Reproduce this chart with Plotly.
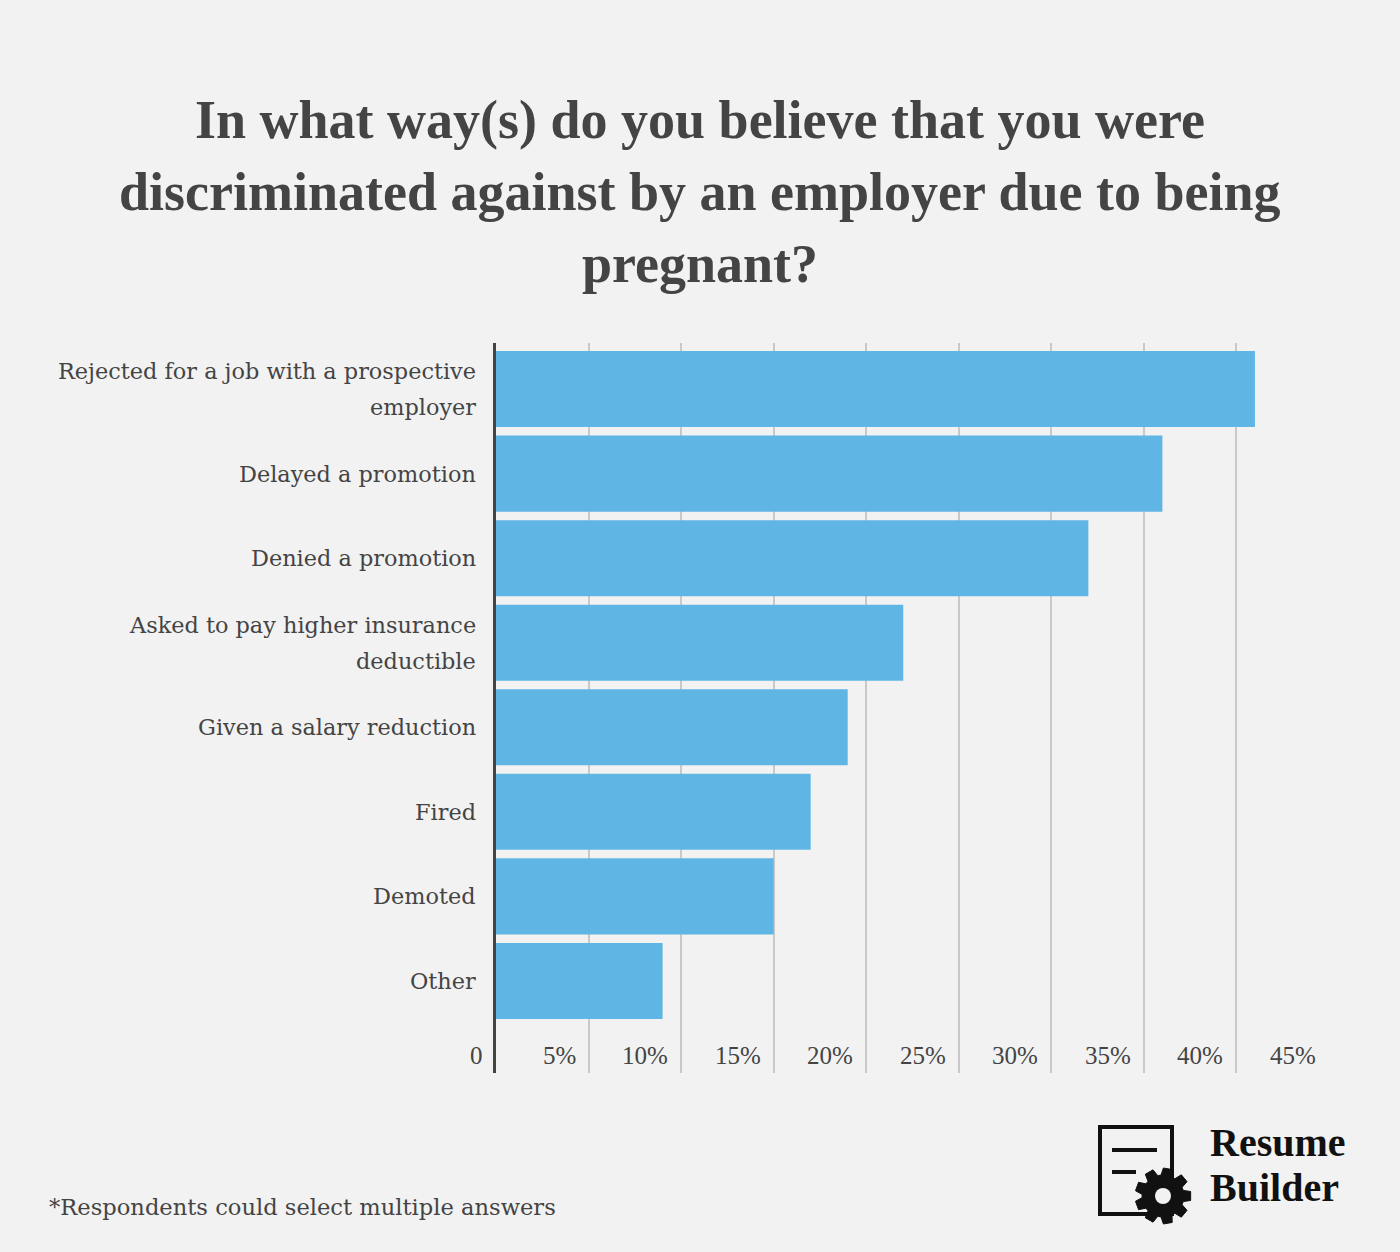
import numpy as np
import plotly.graph_objects as go

categories = [
    "Rejected for a job with a prospective<br>employer",
    "Delayed a promotion",
    "Denied a promotion",
    "Asked to pay higher insurance<br>deductible",
    "Given a salary reduction",
    "Fired",
    "Demoted",
    "Other",
]
values = [41, 36, 32, 22, 19, 17, 15, 9]
tick_vals = [0, 5, 10, 15, 20, 25, 30, 35, 40, 45]
tick_text = ["0", "5%", "10%", "15%", "20%", "25%", "30%", "35%", "40%", "45%"]
title_lines = [
    "In what way(s) do you believe that you were",
    "discriminated against by an employer due to being",
    "pregnant?",
]

BG = "#f2f2f2"
TXT = "#444444"
SERIF = "Liberation Serif"
SERIF2 = "DejaVu Serif"

fig = go.Figure()
fig.add_trace(go.Bar(
    x=values, y=categories, orientation="h",
    marker=dict(color="#5fb6e4", line=dict(width=0)),
    hoverinfo="skip",
))

fig.update_layout(
    width=1400, height=1252,
    paper_bgcolor=BG, plot_bgcolor=BG,
    margin=dict(l=496, r=71, t=343, b=179),
    showlegend=False, bargap=0.1,
    font=dict(family=SERIF, color=TXT),
)
fig.update_xaxes(
    range=[0, 45], tickvals=tick_vals, showticklabels=False,
    showgrid=True, gridcolor="#c9c9c9", gridwidth=2,
    zeroline=False, showline=False, fixedrange=True,
)
fig.update_yaxes(
    type="category", range=[7.5 + 49.8 / 84.55, -0.5 - 3.8 / 84.55],
    showgrid=False, zeroline=False,
    showline=True, linecolor=TXT, linewidth=3,
    ticks="", showticklabels=False,
)

# category labels drawn line by line (to match the generous line spacing)
for cat in categories:
    lines = cat.split("<br>")
    n = len(lines)
    for j, ln in enumerate(lines):
        fig.add_annotation(
            x=0, xref="paper", y=cat, yref="y", text=ln, showarrow=False,
            xanchor="right", yanchor="middle", xshift=-18,
            yshift=-36 * (j - (n - 1) / 2),
            font=dict(family=SERIF2, size=22.4, color=TXT),
        )

# x tick labels (right-aligned just left of each gridline)
for v, t in zip(tick_vals, tick_text):
    fig.add_annotation(
        x=v, xref="x", y=0.0233, yref="paper", text=t, showarrow=False,
        xanchor="right", yanchor="middle", xshift=-11,
        font=dict(family=SERIF, size=25, color=TXT),
    )

# title lines, centred on page width
plot_center = 496 + (1400 - 496 - 71) / 2
for i, line in enumerate(title_lines):
    fig.add_annotation(
        x=0.5, xref="paper", y=1.0, yref="paper",
        xshift=700 - plot_center,
        yshift=(343 - (120 + 72 * i)),
        text="<b>%s</b>" % line, showarrow=False,
        xanchor="center", yanchor="middle",
        font=dict(family=SERIF, size=54, color=TXT),
    )

# footnote
fig.add_annotation(
    x=0, xref="paper", y=0, yref="paper", text="*Respondents could select multiple answers",
    showarrow=False, xanchor="left", yanchor="middle",
    xshift=47 - 496, yshift=1073 - 1207,
    font=dict(family=SERIF2, size=22.6, color=TXT),
)

# logo text
for txt, yc in [("Resume", 1142), ("Builder", 1187)]:
    fig.add_annotation(
        x=0, xref="paper", y=0, yref="paper", text="<b>%s</b>" % txt,
        showarrow=False, xanchor="left", yanchor="middle",
        xshift=1208 - 496, yshift=1073 - yc,
        font=dict(family=SERIF, size=40, color="#111111"),
    )

# logo icon (pixel -> paper conversion)
pw, ph = 1400 - 496 - 71, 1073 - 343
def px(x):
    return (x - 496) / pw
def py(y):
    return (1073 - y) / ph

fig.add_shape(type="rect", xref="paper", yref="paper",
              x0=px(1100), x1=px(1172), y0=py(1127), y1=py(1214),
              line=dict(color="#111111", width=4), fillcolor="rgba(0,0,0,0)")
fig.add_shape(type="line", xref="paper", yref="paper",
              x0=px(1112), x1=px(1157), y0=py(1150), y1=py(1150),
              line=dict(color="#111111", width=4))
fig.add_shape(type="line", xref="paper", yref="paper",
              x0=px(1112), x1=px(1136), y0=py(1172), y1=py(1172),
              line=dict(color="#111111", width=4))

# gear
cx, cy = 1163, 1196
n_teeth = 9
pts = []
for k in range(n_teeth):
    base = 2 * np.pi * k / n_teeth
    for da, r in [(-0.27, 21), (-0.16, 28), (0.16, 28), (0.27, 21)]:
        a = base + da
        pts.append((cx + r * np.cos(a), cy + r * np.sin(a)))
path = "M " + " L ".join("%f,%f" % (px(x), py(y)) for x, y in pts) + " Z"
fig.add_shape(type="path", xref="paper", yref="paper", path=path,
              fillcolor="#111111", line=dict(color="#111111", width=1))
fig.add_shape(type="circle", xref="paper", yref="paper",
              x0=px(cx - 8), x1=px(cx + 8), y0=py(cy + 8), y1=py(cy - 8),
              fillcolor=BG, line=dict(width=0))

fig.write_html("out.html")
